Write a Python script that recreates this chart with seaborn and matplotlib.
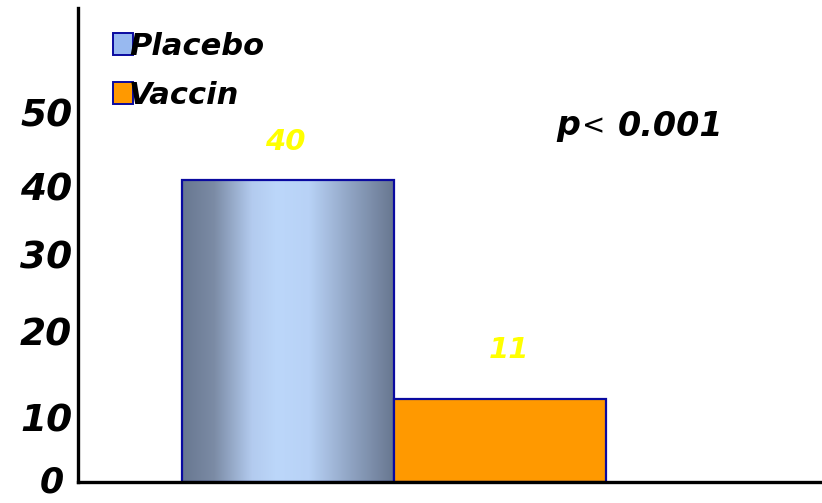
import numpy as np
import pandas as pd
import matplotlib
matplotlib.use("Agg")
import matplotlib.pyplot as plt
import matplotlib.transforms as mtransforms
import seaborn as sns
from matplotlib.colors import LinearSegmentedColormap
from matplotlib.patches import Patch

# data
groups = ["Placebo", "Vaccin"]
values = [40, 11]
value_labels = ["40", "11"]
y_ticks = [0, 10, 20, 30, 40, 50]
p_text = "0.001"

FILL = {"Placebo": "#98b9f0", "Vaccin": "#ff9900"}
EDGE = "#0a0aa0"
LABEL_YELLOW = "#ffff00"

sns.set_theme(style="white")
plt.rcParams["font.family"] = ["DejaVu Sans"]
plt.rcParams["text.color"] = "black"
plt.rcParams["ytick.color"] = "black"

BI = {"fontweight": "bold", "fontstyle": "italic"}

df = pd.DataFrame({"group": groups, "value": values})

fig = plt.figure(figsize=(8.22, 5.03), dpi=100)
ax = fig.add_axes([78 / 822, 21 / 503, 1 - 78 / 822, (482 - 8) / 503])

sns.barplot(data=df, x="group", y="value", hue="group", palette=FILL,
            width=1.0, edgecolor=EDGE, linewidth=1.6, legend=False,
            saturation=1, ax=ax)

# cylinder-style shading on the placebo bar
shade = LinearSegmentedColormap.from_list("shade", [
    (0.0, "#687790"), (0.15, "#7b8ba5"), (0.33, "#b3cbef"),
    (0.45, "#bcd7fa"), (0.6, "#b8d2f6"), (0.8, "#8fa3c2"), (1.0, "#687790")])
bar = ax.patches[0]
x0, y0 = bar.get_x(), bar.get_y()
w, h = bar.get_width(), bar.get_height()
grad = np.linspace(0, 1, 256).reshape(1, -1)
img = ax.imshow(grad, cmap=shade, aspect="auto", extent=[x0, x0 + w, y0, y0 + h],
                zorder=bar.get_zorder() - 0.1, interpolation="bicubic")
img.set_clip_path(bar)
bar.set_facecolor("none")
ax.set_xlim(-0.993, 2.517)
ax.set_ylim(0, 62.8)

# value labels above bars
offsets = [17.5, 25.5]
nudge_x = [-2, 6]
for i, (v, lab) in enumerate(zip(values, value_labels)):
    ax.annotate(lab, (i, v), xytext=(nudge_x[i], offsets[i]), textcoords="offset points",
                ha="center", va="bottom", color=LABEL_YELLOW, fontsize=21, **BI)

# axes styling
sns.despine(ax=ax)
for side in ["left", "bottom"]:
    ax.spines[side].set_color("black")
    ax.spines[side].set_linewidth(2.4)
ax.set_xticks([])
ax.set_xlabel("")
ax.set_ylabel("")
ax.set_yticks(y_ticks)
ax.set_yticklabels([str(t) for t in y_ticks], fontsize=27, color="black", **BI)
ax.tick_params(axis="y", length=0, pad=4)

# the original labels sit slightly off their gridline values
label_shift = {0: (-9, 3), 10: (0, -11), 20: (0, 0), 30: (0, 1), 40: (0, -6), 50: (0, -8)}
for t, lab in zip(y_ticks, ax.get_yticklabels()):
    dx, dy = label_shift[t]
    lab.set_transform(lab.get_transform() +
                      mtransforms.ScaledTranslation(dx / 100, dy / 100, fig.dpi_scale_trans))
    if t == 0:
        lab.set_fontsize(25)

# legend
handles = [Patch(facecolor=FILL[g], edgecolor=EDGE, linewidth=1.4, label=g) for g in groups]
leg = ax.legend(handles=handles, loc="upper left",
                bbox_to_anchor=(113 / 822, 1 - 32 / 503), bbox_transform=fig.transFigure,
                frameon=False, handlelength=0.65, handleheight=0.72,
                handletextpad=-0.13, labelspacing=0.65, borderpad=0, borderaxespad=0,
                prop={"size": 22, "weight": "bold", "style": "italic"})

# p-value annotation
py = 1 - 126 / 503
fig.text(556 / 822, py, "p", fontsize=24, va="center", ha="left", **BI)
fig.text(582 / 822, py, "<", fontsize=20, va="center", ha="left")
fig.text(618 / 822, py, p_text, fontsize=24, va="center", ha="left", **BI)

fig.savefig("out.png", dpi=100)
